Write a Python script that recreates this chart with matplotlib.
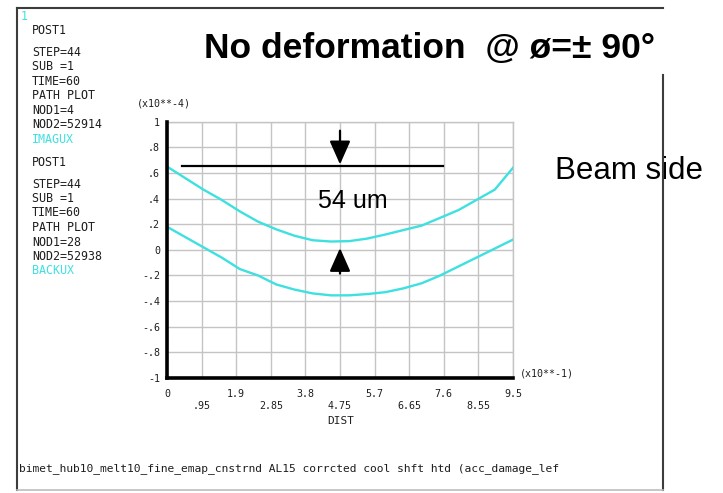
import matplotlib
matplotlib.use("Agg")
import matplotlib.pyplot as plt
from matplotlib.lines import Line2D

W, H = 723, 493

# path distance (x10**-1) and displacements (x10**-4)
dist = [0.0, 0.5, 1.0, 1.5, 2.0, 2.5, 3.0, 3.5, 4.0, 4.5,
        5.0, 5.5, 6.0, 6.5, 7.0, 7.5, 8.0, 8.5, 9.0, 9.5]
imagux = [0.65, 0.56, 0.47, 0.39, 0.30, 0.22, 0.16, 0.11, 0.075, 0.065,
          0.068, 0.088, 0.12, 0.155, 0.19, 0.25, 0.31, 0.39, 0.47, 0.64]
backux = [0.18, 0.10, 0.02, -0.06, -0.15, -0.20, -0.27, -0.31, -0.34, -0.355,
          -0.355, -0.345, -0.33, -0.30, -0.26, -0.20, -0.13, -0.06, 0.01, 0.08]

xticks = [0, 0.95, 1.9, 2.85, 3.8, 4.75, 5.7, 6.65, 7.6, 8.55, 9.5]
xticklabels = ["0", ".95", "1.9", "2.85", "3.8", "4.75", "5.7", "6.65", "7.6", "8.55", "9.5"]
yticks = [1, 0.8, 0.6, 0.4, 0.2, 0, -0.2, -0.4, -0.6, -0.8, -1]
yticklabels = ["1", ".8", ".6", ".4", ".2", "0", "-.2", "-.4", "-.6", "-.8", "-1"]

left_info = [
    ("POST1", 30, "k"), ("STEP=44", 52.5, "k"), ("SUB =1", 67, "k"),
    ("TIME=60", 81, "k"), ("PATH PLOT", 95.8, "k"), ("NOD1=4", 110, "k"),
    ("NOD2=52914", 124.7, "k"), ("IMAGUX", 139.7, "c"),
    ("POST1", 162, "k"), ("STEP=44", 184, "k"), ("SUB =1", 198.7, "k"),
    ("TIME=60", 213, "k"), ("PATH PLOT", 227.5, "k"), ("NOD1=28", 242, "k"),
    ("NOD2=52938", 256.3, "k"), ("BACKUX", 270.5, "c"),
]
caption = "bimet_hub10_melt10_fine_emap_cnstrnd AL15 corrcted cool shft htd (acc_damage_lef"

CYAN = "#3fe0e0"
TXT = "#1e1e1e"
MONO = "DejaVu Sans Mono"
SANS = "Liberation Sans"


def px(x, y):
    return x / W, 1 - y / H


fig = plt.figure(figsize=(W / 100, H / 100), dpi=100)
fig.patch.set_facecolor("white")

# plot area
x0, y0 = px(167, 378)
x1, y1 = px(513, 121.7)
ax = fig.add_axes([x0, y0, x1 - x0, y1 - y0])
ax.set_xlim(0, 9.5)
ax.set_ylim(-1, 1)

ax.plot(dist, imagux, color=CYAN, lw=1.7, zorder=3)
ax.plot(dist, backux, color=CYAN, lw=1.7, zorder=3)

ax.set_xticks(xticks)
ax.set_xticklabels([lab if i % 2 == 0 else "\n" + lab for i, lab in enumerate(xticklabels)],
                   fontfamily=MONO, fontsize=7.2, color=TXT, linespacing=1.25)
ax.set_yticks(yticks)
ax.set_yticklabels(yticklabels, fontfamily=MONO, fontsize=7.2, color=TXT)
ax.tick_params(axis="x", length=0, pad=8)
ax.tick_params(axis="y", length=0, pad=5)
ax.grid(True, color="#c4c4c4", lw=1)
ax.set_axisbelow(True)
for side in ("left", "bottom"):
    ax.spines[side].set_linewidth(2.6)
    ax.spines[side].set_color("black")
    ax.spines[side].set_zorder(5)
for side in ("top", "right"):
    ax.spines[side].set_linewidth(1)
    ax.spines[side].set_color("#c4c4c4")

# 54 um gap marker
ax.plot([0.41, 7.58], [0.657, 0.657], color="black", lw=1.6, clip_on=False, zorder=4)
arrow_kw = dict(arrowstyle="-|>,head_length=0.9,head_width=0.4",
                mutation_scale=16, color="black", lw=1.6, shrinkA=0, shrinkB=0)
ax.annotate("", xy=(4.75, 0.667), xytext=(4.75, 0.93), arrowprops=arrow_kw, zorder=4)
ax.annotate("", xy=(4.75, 0.014), xytext=(4.75, -0.185), arrowprops=arrow_kw, zorder=4)

# axis annotations
fig.text(*px(137, 103), "(x10**-4)", fontfamily=MONO, fontsize=7.2, color=TXT, va="center")
fig.text(*px(520, 374), "(x10**-1)", fontfamily=MONO, fontsize=7.2, color=TXT, va="center")
fig.text(*px(341, 420.5), "DIST", fontfamily=MONO, fontsize=8, color=TXT, va="center", ha="center")

# solution info block
fig.text(*px(21, 16), "1", fontfamily=MONO, fontsize=8.4, color=CYAN, va="center")
for label, yy, c in left_info:
    fig.text(*px(32, yy), label, fontfamily=MONO, fontsize=8.4,
             color=CYAN if c == "c" else TXT, va="center")

fig.text(*px(19, 469), caption, fontfamily=MONO, fontsize=8.1, color=TXT, va="center")

# outer frame
frame_kw = dict(color="#3c3c3c", lw=1.5, transform=fig.transFigure, zorder=10)
fig.add_artist(Line2D(*zip(px(16.5, 8), px(16.5, 490)), **frame_kw))
fig.add_artist(Line2D(*zip(px(16.5, 8), px(662.5, 8)), **frame_kw))
fig.add_artist(Line2D(*zip(px(662.5, 75), px(662.5, 490)), **frame_kw))
fig.add_artist(Line2D(*zip(px(16.5, 490), px(662.5, 490)),
                      color="#bdbdbd", lw=1.2, transform=fig.transFigure, zorder=10))

# slide overlays
fig.text(*px(204, 58.3), "No deformation  @ \u00f8=\u00b1 90\u00b0", fontfamily=SANS,
         fontsize=25.5, fontweight="bold", color="black", va="baseline")
fig.text(*px(318, 208.3), "54 um", fontfamily=SANS, fontsize=18, color="black", va="baseline")
fig.text(*px(555, 179), "Beam side", fontfamily=SANS, fontsize=22.5, color="black", va="baseline")

fig.savefig("out.png", dpi=100)
